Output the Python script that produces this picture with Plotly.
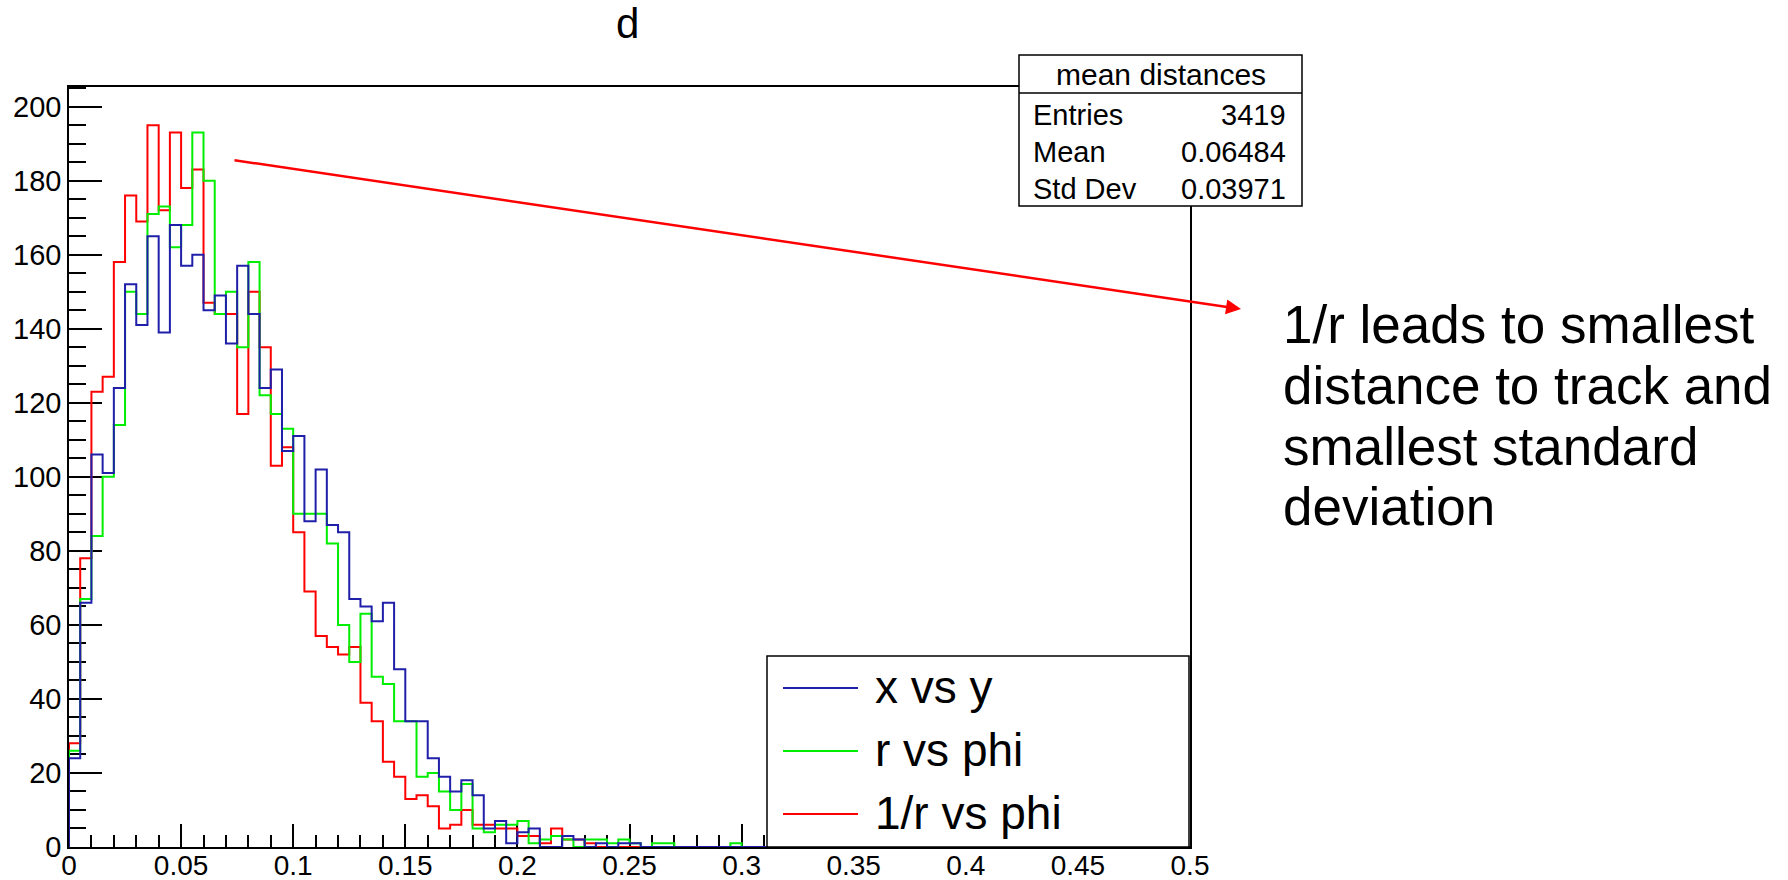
import numpy as np
import plotly.graph_objects as go

# ---------------- data ----------------
title_text = "d"
series_names = ["x vs y", "r vs phi", "1/r vs phi"]
series_colors = ["#1f1faa", "#00ee00", "#ff0000"]
n_bins = 100
x_min, x_max = 0.0, 0.5
y_max = 205.3

counts_xy = [
    24, 66, 106, 101, 124, 152, 141, 165, 139, 168,
    157, 160, 145, 149, 136, 157, 144, 124, 129, 107,
    111, 88, 102, 87, 85, 67, 65, 61, 66, 48,
    34, 34, 24, 19, 15, 18, 14, 5, 7, 1,
    4, 5, 0, 0, 3, 2, 0, 1, 0, 1,
    1, 0, 0, 0, 0, 0, 0, 0, 0, 0,
    0, 0, 0, 0, 0, 0, 0, 0, 0, 0,
    0, 0, 0, 0, 0, 0, 0, 0, 0, 0,
    0, 0, 0, 0, 0, 0, 0, 0, 0, 0,
    0, 0, 0, 0, 0, 0, 0, 0, 0, 0,
]
counts_rphi = [
    26, 67, 84, 100, 114, 150, 144, 171, 173, 162,
    168, 193, 180, 144, 150, 135, 158, 122, 117, 113,
    90, 90, 90, 82, 60, 50, 63, 46, 44, 34,
    34, 19, 20, 15, 10, 17, 5, 4, 6, 6,
    7, 1, 2, 3, 2, 0, 2, 2, 1, 2,
    1, 0, 1, 1, 0, 0, 0, 0, 0, 1,
    0, 0, 0, 0, 0, 0, 0, 0, 0, 0,
    0, 0, 0, 0, 0, 0, 0, 0, 0, 0,
    0, 0, 0, 0, 0, 0, 0, 0, 0, 0,
    0, 0, 0, 0, 0, 0, 0, 0, 0, 0,
]
counts_invr = [
    28, 78, 123, 127, 158, 176, 169, 195, 172, 193,
    178, 183, 147, 144, 144, 117, 150, 135, 103, 108,
    85, 69, 57, 54, 52, 54, 39, 34, 23, 19,
    13, 14, 11, 5, 6, 10, 6, 6, 5, 5,
    3, 3, 1, 5, 2, 2, 1, 0, 0, 0,
    0, 0, 0, 0, 0, 0, 0, 0, 0, 0,
    0, 0, 0, 0, 0, 0, 0, 0, 0, 0,
    0, 0, 0, 0, 0, 0, 0, 0, 0, 0,
    0, 0, 0, 0, 0, 0, 0, 0, 0, 0,
    0, 0, 0, 0, 0, 0, 0, 0, 0, 0,
]

stats_title = "mean distances"
stats_labels = ["Entries", "Mean", "Std Dev"]
stats_values = ["3419", "0.06484", "0.03971"]
note_lines = ["1/r leads to smallest", "distance to track and",
              "smallest standard", "deviation"]

# ---------------- layout geometry (pixels) ----------------
W, H = 1788, 880
L, R, T, B = 69, 1190, 87, 847
FONT = "Liberation Sans, Arial, Helvetica, sans-serif"


def pxx(v):
    return (v - L) / (R - L)


def pxy(v):
    return (B - v) / (B - T)


edges = np.linspace(x_min, x_max, n_bins + 1)


def step_xy(counts):
    xs = [x_min] + list(edges[:-1]) + [x_max, x_max]
    ys = [0] + list(counts) + [counts[-1], 0]
    return xs, ys


fig = go.Figure()
all_counts = {"x vs y": counts_xy, "r vs phi": counts_rphi, "1/r vs phi": counts_invr}
color_of = dict(zip(series_names, series_colors))
for name in ["1/r vs phi", "r vs phi", "x vs y"]:
    xs, ys = step_xy(all_counts[name])
    fig.add_trace(go.Scatter(x=xs, y=ys, mode="lines", name=name,
                             line=dict(color=color_of[name], width=2, shape="hv"),
                             showlegend=False, hoverinfo="skip"))

axis_common = dict(showline=True, linecolor="black", linewidth=1.5, mirror=True,
                   ticks="inside", tickcolor="black", tickwidth=1.5,
                   showgrid=False, zeroline=False, layer="below traces",
                   automargin=False)

fig.update_xaxes(range=[x_min, x_max], tick0=0, dtick=0.05, ticklen=23,
                 ticklabelstandoff=-7,
                 tickfont=dict(family=FONT, size=28, color="black"),
                 minor=dict(dtick=0.01, ticklen=12, tickwidth=1.5, tickcolor="black",
                            ticks="inside", showgrid=False),
                 **axis_common)
fig.update_yaxes(range=[0, y_max], tick0=0, dtick=20, ticklen=33,
                 tickfont=dict(family=FONT, size=29, color="black"),
                 minor=dict(dtick=5, ticklen=17, tickwidth=1.5, tickcolor="black",
                            ticks="inside", showgrid=False),
                 **axis_common)

shapes = []
annotations = []

# title
annotations.append(dict(x=pxx(627), y=pxy(24), xref="paper", yref="paper",
                        text=title_text, showarrow=False, xanchor="center", yanchor="middle",
                        font=dict(family=FONT, size=42, color="black")))

# stats box
shapes.append(dict(type="rect", xref="paper", yref="paper",
                   x0=pxx(1019), x1=pxx(1302), y0=pxy(206), y1=pxy(55),
                   fillcolor="white", line=dict(color="black", width=1.5), layer="above"))
shapes.append(dict(type="line", xref="paper", yref="paper",
                   x0=pxx(1019), x1=pxx(1302), y0=pxy(93), y1=pxy(93),
                   line=dict(color="black", width=1.5), layer="above"))
annotations.append(dict(x=pxx(1160.5), y=pxy(74), xref="paper", yref="paper",
                        text=stats_title, showarrow=False, xanchor="center", yanchor="middle",
                        font=dict(family=FONT, size=30, color="black")))
for i, (lab, val) in enumerate(zip(stats_labels, stats_values)):
    yc = 114.5 + i * 37.5
    annotations.append(dict(x=pxx(1031), y=pxy(yc), xref="paper", yref="paper",
                            text=lab, showarrow=False, xanchor="left", yanchor="middle",
                            font=dict(family=FONT, size=29, color="black")))
    annotations.append(dict(x=pxx(1288), y=pxy(yc), xref="paper", yref="paper",
                            text=val, showarrow=False, xanchor="right", yanchor="middle",
                            font=dict(family=FONT, size=29, color="black")))

# legend box
shapes.append(dict(type="rect", xref="paper", yref="paper",
                   x0=pxx(767), x1=pxx(1189), y0=pxy(847), y1=pxy(656),
                   fillcolor="white", line=dict(color="black", width=1.5), layer="above"))
for i, name in enumerate(series_names):
    yc = 688 + i * 63
    shapes.append(dict(type="line", xref="paper", yref="paper",
                       x0=pxx(783), x1=pxx(858), y0=pxy(yc), y1=pxy(yc),
                       line=dict(color=color_of[name], width=2), layer="above"))
    annotations.append(dict(x=pxx(873), y=pxy(yc - 1), xref="paper", yref="paper",
                            text=name, showarrow=False, xanchor="left", yanchor="middle",
                            font=dict(family=FONT, size=46, color="black")))

# arrow
head_x, head_y = 1241, 309
tail_x, tail_y = 233, 160
annotations.append(dict(x=pxx(head_x), y=pxy(head_y), xref="paper", yref="paper",
                        ax=tail_x - head_x, ay=tail_y - head_y, axref="pixel", ayref="pixel",
                        text="", showarrow=True, arrowhead=2, arrowsize=1.2,
                        arrowwidth=2.5, arrowcolor="#ff0000", standoff=0))

# note text (one annotation per line for tighter line spacing)
for i, line in enumerate(note_lines):
    annotations.append(dict(x=pxx(1281), y=pxy(324 + i * 61), xref="paper", yref="paper",
                            text=line, showarrow=False,
                            xanchor="left", yanchor="middle", align="left",
                            font=dict(family=FONT, size=53, color="black")))

fig.update_layout(width=W, height=H, autosize=False,
                  margin=dict(l=L, r=W - R, t=T, b=H - B, pad=0),
                  paper_bgcolor="white", plot_bgcolor="white",
                  showlegend=False, shapes=shapes, annotations=annotations)

fig.write_html("out.html")
